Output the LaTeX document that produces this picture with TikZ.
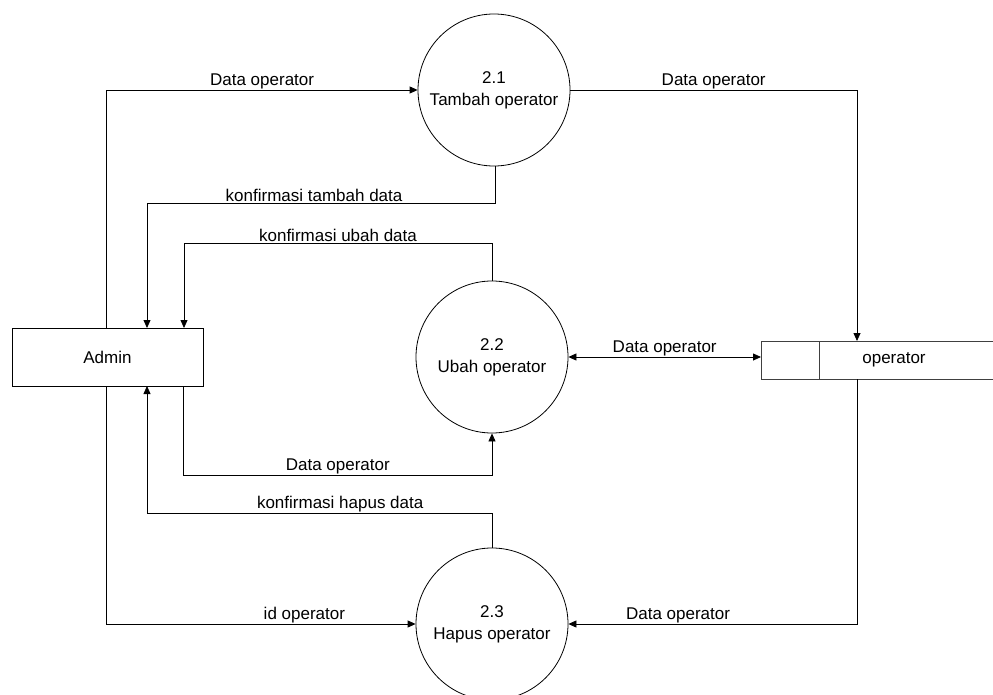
\documentclass[tikz,border=0pt]{standalone}
\usepackage{fontspec}
\setmainfont{Liberation Sans}
\usetikzlibrary{arrows.meta}
\begin{document}
\begin{tikzpicture}[x=1pt,y=-1pt,
  every node/.style={font=\fontsize{17}{22}\selectfont},
  proc/.style={draw, circle, line width=0.8pt, minimum size=152pt, inner sep=0pt, align=center},
  ent/.style={draw, line width=0.8pt, minimum width=191pt, minimum height=58pt, inner sep=0pt},
  flow/.style={line width=0.8pt, -{Triangle[length=8pt,width=7pt]}},
  biflow/.style={line width=0.8pt, {Triangle[length=8pt,width=7pt]}-{Triangle[length=8pt,width=7pt]}},
  lbl/.style={inner sep=1pt}]
\useasboundingbox (0,0) rectangle (993,695);
\clip (0,0) rectangle (993,695);

% processes
\node[proc] (p1) at (494,90) {2.1\\Tambah operator};
\node[proc] (p2) at (492,357) {2.2\\Ubah operator};
\node[proc] (p3) at (492,624) {2.3\\Hapus operator};

% external entity
\node[ent] (admin) at (107.5,357) {Admin};

% data store (open on the right)
\coordinate (sL) at (761,357);
\coordinate (sT) at (857,341);
\coordinate (sB) at (857,379);
\draw[line width=0.8pt, black!75] (1000,341) -- (761,341) -- (761,379) -- (1000,379);
\draw[line width=0.8pt, black!75] (819,341) -- (819,379);
\node (store) at (894,360) {operator};

% flows from Admin
\draw[flow] (admin.north west) ++(95,0) |- (p1.west)
  node[lbl, pos=0.75, above] {Data operator};
\draw[flow] (admin.south west) ++(95,0) |- (p3.west)
  node[lbl, pos=0.82, above] {id operator};
\draw[flow] (admin.south west) ++(172,0) -- ++(0,89) -| (p2.south)
  node[lbl, pos=0.25, above] {Data operator};

% confirmations back to Admin
\draw[flow] (p1.south) ++(1,0) |- (147,203)
  node[lbl, pos=0.76, above] {konfirmasi tambah data} -- (147,328);
\draw[flow] (p2.north) |- (184,243)
  node[lbl, pos=0.75, above] {konfirmasi ubah data} -- (184,328);
\draw[flow] (p3.north) |- (147,513)
  node[lbl, pos=0.72, above] {konfirmasi hapus data} -- (147,386);

% flows with the data store
\draw[flow] (p1.east) -| (sT)
  node[lbl, pos=0.25, above] {Data operator};
\draw[biflow] (p2.east) -- (sL)
  node[lbl, midway, above] {Data operator};
\draw[flow] (sB) |- (p3.east)
  node[lbl, pos=0.81, above] {Data operator};
\end{tikzpicture}
\end{document}
